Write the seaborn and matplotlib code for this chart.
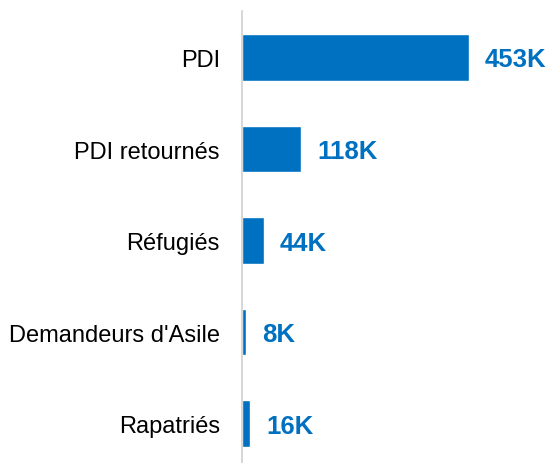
import numpy as np
import matplotlib.pyplot as plt
import seaborn as sns
import pandas as pd

categories = ["PDI", "PDI retournés", "Réfugiés", "Demandeurs d'Asile", "Rapatriés"]
values = [453, 118, 44, 8, 16]  # en milliers
labels = ["453K", "118K", "44K", "8K", "16K"]

blue = "#0070C0"

sns.set_style("white")
plt.rcParams['font.family'] = ['Liberation Sans', 'DejaVu Sans']

df = pd.DataFrame({"cat": categories, "val": values})

fig = plt.figure(figsize=(5.51, 4.64), dpi=100)
ax = fig.add_axes([242 / 551, 0, 309 / 551, 452 / 464])

sns.barplot(data=df, x="val", y="cat", color=blue, width=0.51,
            saturation=1, ax=ax)

ax.set_xlim(0, 617.7)
ax.set_ylim(4.43, -0.508)

for i, (v, lab) in enumerate(zip(values, labels)):
    ax.annotate(lab, (v, i), xytext=(16, -2), textcoords="offset pixels",
                va="center", ha="left", fontsize=18.5, fontweight="bold",
                color=blue)

ax.set_xlabel("")
ax.set_ylabel("")
ax.set_xticks([])
ax.tick_params(axis="y", length=0, pad=16, labelsize=17, labelcolor="black")
for s in ["top", "right", "bottom"]:
    ax.spines[s].set_visible(False)
ax.spines["left"].set_color("#d0d0d0")
ax.spines["left"].set_linewidth(1.2)

fig.savefig("out.png", dpi=100)
